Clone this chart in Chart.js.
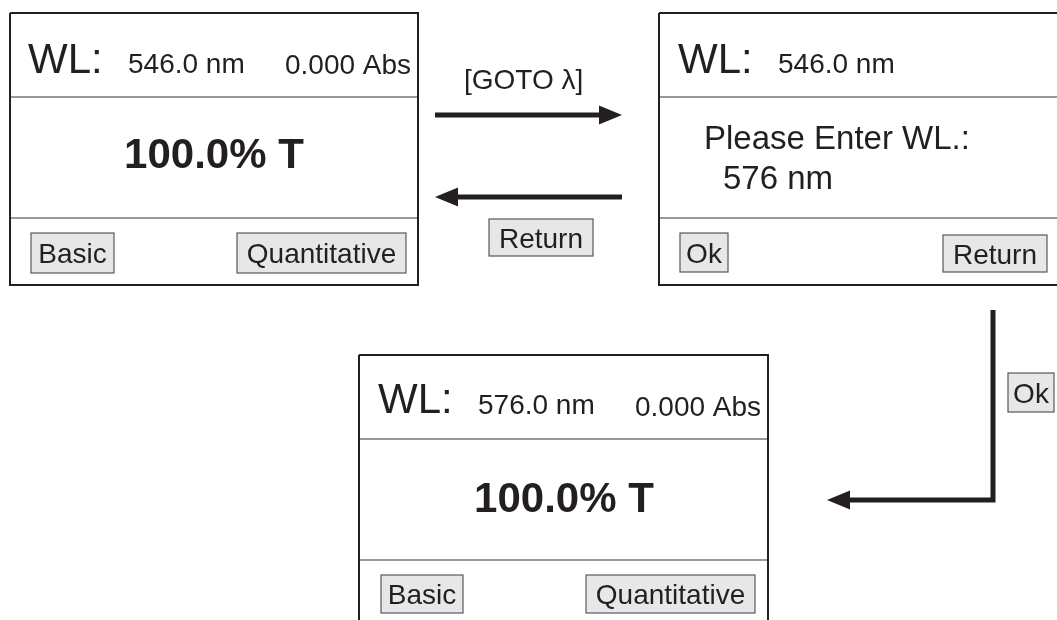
<!DOCTYPE html>
<html>
<head>
<meta charset="utf-8">
<script src="https://cdn.jsdelivr.net/npm/chart.js@4.4.1/dist/chart.umd.min.js"></script>
<style>
  html, body { margin: 0; padding: 0; background: #fff; }
  #wrap { width: 1057px; height: 620px; position: relative; }
</style>
</head>
<body>
<div id="wrap"><canvas id="flowChart"></canvas></div>
<script>
// Texte der drei Bildschirme
const screenHeads = ["WL:", "WL:", "WL:"];
const screenWavelengths = ["546.0 nm", "546.0 nm", "576.0 nm"];
const screenAbsorbance = ["0.000 Abs", "", "0.000 Abs"];
const screenReadings = ["100.0% T", "", "100.0% T"];
const promptLines = ["Please Enter WL.:", "576 nm"];
const leftKeys = ["Basic", "Ok", "Basic"];
const rightKeys = ["Quantitative", "Return", "Quantitative"];
const transitionKeys = ["[GOTO \u03bb]", "Return", "Ok"];

// Layout (Koordinaten im Achsensystem 0..1057 / 0..620)
const panels = [
    { l: 10, t: 13, r: 418, b: 285, s1: 97, s2: 218,
      head: [28, 73], wl: [128, 73], abs: [285, 74], reading: [214, 168],
      keyL: [31, 233, 114, 273], keyR: [237, 233, 406, 273] },
    { l: 659, t: 13, r: 1075, b: 285, s1: 97, s2: 218,
      head: [678, 73], wl: [778, 73], abs: null, reading: null,
      prompt: [[704, 149], [723, 189]],
      keyL: [680, 233, 728, 272], keyR: [943, 235, 1047, 272] },
    { l: 359, t: 355, r: 768, b: 645, s1: 439, s2: 560,
      head: [378, 413], wl: [478, 414], abs: [635, 416], reading: [564, 512],
      keyL: [381, 575, 463, 613], keyR: [586, 575, 755, 613] }
];
const arrows = [
    { path: [[435, 115], [602, 115]], tip: [622, 115], dir: 1 },
    { path: [[455, 197], [622, 197]], tip: [435, 197], dir: -1 },
    { path: [[993, 310], [993, 500], [848, 500]], tip: [827, 500], dir: -1 }
];
const goToLabel = [464, 89];
const transitionButtons = [null, [489, 219, 593, 256], [1008, 373, 1054, 412]];

const ink = "#231f20";
const fontFamily = '"Liberation Sans", Arial, sans-serif';

function toPts(arr) {
    return arr.map(p => ({ x: p[0], y: p[1] }));
}

const datasets = [];
panels.forEach(p => {
    datasets.push({
        data: toPts([[p.l, p.t], [p.r, p.t], [p.r, p.b], [p.l, p.b], [p.l, p.t]]),
        borderColor: ink, borderWidth: 2
    });
    datasets.push({ data: toPts([[p.l, p.s1], [p.r, p.s1]]), borderColor: "#76777a", borderWidth: 1.3 });
    datasets.push({ data: toPts([[p.l, p.s2], [p.r, p.s2]]), borderColor: "#76777a", borderWidth: 1.3 });
});
arrows.forEach(a => {
    datasets.push({ data: toPts(a.path), borderColor: ink, borderWidth: 5 });
});
datasets.forEach(d => {
    d.showLine = true;
    d.pointRadius = 0;
    d.borderJoinStyle = "miter";
    d.borderCapStyle = "butt";
    d.tension = 0;
});

const screenPlugin = {
    id: "screenPlugin",
    afterDatasetsDraw(chart) {
        const ctx = chart.ctx;
        const xs = chart.scales.x, ys = chart.scales.y;
        const px = v => xs.getPixelForValue(v);
        const py = v => ys.getPixelForValue(v);

        function text(str, x, y, size, bold, align) {
            ctx.font = (bold ? "bold " : "") + size + "px " + fontFamily;
            ctx.fillStyle = ink;
            ctx.textAlign = align || "left";
            ctx.textBaseline = "alphabetic";
            ctx.fillText(str, px(x), py(y));
        }
        function key(label, box) {
            const x0 = px(box[0]), y0 = py(box[1]), x1 = px(box[2]), y1 = py(box[3]);
            ctx.fillStyle = "#e6e7e8";
            ctx.fillRect(x0, y0, x1 - x0, y1 - y0);
            ctx.strokeStyle = "#58595b";
            ctx.lineWidth = 1.2;
            ctx.strokeRect(x0, y0, x1 - x0, y1 - y0);
            ctx.font = "28px " + fontFamily;
            ctx.fillStyle = ink;
            ctx.textAlign = "center";
            ctx.textBaseline = "alphabetic";
            ctx.fillText(label, (x0 + x1) / 2, (y0 + y1) / 2 + 28 * 0.716 / 2);
        }

        ctx.save();
        panels.forEach((p, i) => {
            text(screenHeads[i], p.head[0], p.head[1], 42);
            text(screenWavelengths[i], p.wl[0], p.wl[1], 28);
            if (p.abs && screenAbsorbance[i]) text(screenAbsorbance[i], p.abs[0], p.abs[1], 28);
            if (p.reading && screenReadings[i]) text(screenReadings[i], p.reading[0], p.reading[1], 42, true, "center");
            if (p.prompt) {
                p.prompt.forEach((pos, k) => text(promptLines[k], pos[0], pos[1], 33));
            }
            key(leftKeys[i], p.keyL);
            key(rightKeys[i], p.keyR);
        });

        // Pfeilspitzen
        arrows.forEach(a => {
            const tx = px(a.tip[0]), ty = py(a.tip[1]);
            const len = 23, half = 9.5;
            ctx.beginPath();
            ctx.moveTo(tx, ty);
            ctx.lineTo(tx - a.dir * len, ty - half);
            ctx.lineTo(tx - a.dir * len, ty + half);
            ctx.closePath();
            ctx.fillStyle = ink;
            ctx.fill();
        });

        text(transitionKeys[0], goToLabel[0], goToLabel[1], 28);
        transitionButtons.forEach((b, i) => { if (b) key(transitionKeys[i], b); });
        ctx.restore();
    }
};

new Chart(document.getElementById("flowChart"), {
    type: "scatter",
    data: { datasets: datasets },
    options: {
        responsive: true,
        maintainAspectRatio: false,
        animation: false,
        events: [],
        layout: { padding: 0 },
        plugins: { legend: { display: false }, tooltip: { enabled: false } },
        scales: {
            x: { type: "linear", min: 0, max: 1057, display: false },
            y: { type: "linear", min: 0, max: 620, reverse: true, display: false }
        }
    },
    plugins: [screenPlugin]
});
</script>
</body>
</html>
